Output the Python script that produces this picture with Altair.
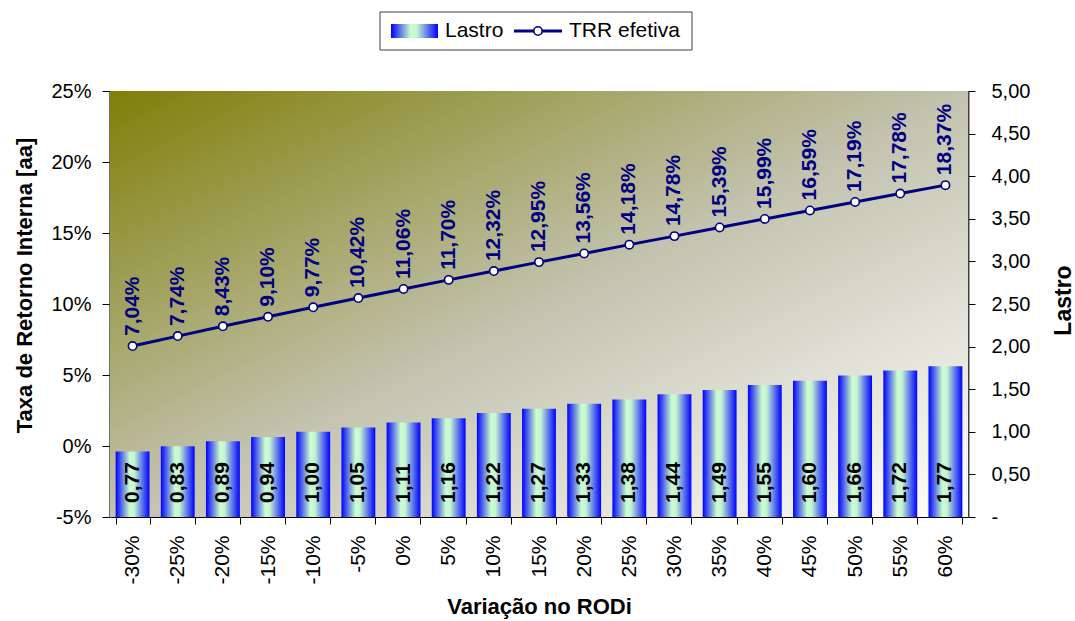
import altair as alt
import pandas as pd

categories = ["-30%", "-25%", "-20%", "-15%", "-10%", "-5%", "0%", "5%", "10%",
              "15%", "20%", "25%", "30%", "35%", "40%", "45%", "50%", "55%", "60%"]
lastro = [0.77, 0.83, 0.89, 0.94, 1.00, 1.05, 1.11, 1.16, 1.22, 1.27,
          1.33, 1.38, 1.44, 1.49, 1.55, 1.60, 1.66, 1.72, 1.77]
trr = [7.04, 7.74, 8.43, 9.10, 9.77, 10.42, 11.06, 11.70, 12.32, 12.95,
       13.56, 14.18, 14.78, 15.39, 15.99, 16.59, 17.19, 17.78, 18.37]
left_ticks = [-5, 0, 5, 10, 15, 20, 25]
right_ticks = [0, 0.5, 1, 1.5, 2, 2.5, 3, 3.5, 4, 4.5, 5]
legend_labels = ["Lastro", "TRR efetiva"]

W, H = 858, 426
NAVY = "#000080"
FONT = "Liberation Sans"

df = pd.DataFrame({"cat": categories, "lastro": lastro, "trr": trr})
df["lastro_lbl"] = [f"{v:.2f}".replace(".", ",") for v in lastro]
df["trr_lbl"] = [f"{v:.2f}".replace(".", ",") + "%" for v in trr]

bar_grad = alt.Gradient(
    gradient="linear", x1=0, y1=0, x2=1, y2=0,
    stops=[alt.GradientStop(offset=0, color="#0000ff"),
           alt.GradientStop(offset=0.42, color="#ccffcc"),
           alt.GradientStop(offset=0.55, color="#c4f4d4"),
           alt.GradientStop(offset=1, color="#0000ff")])
bg_grad = alt.Gradient(
    gradient="linear", x1=0, y1=0, x2=1, y2=1,
    stops=[alt.GradientStop(offset=0, color="#7f7f08"),
           alt.GradientStop(offset=0.5, color="#c2c2ae"),
           alt.GradientStop(offset=1, color="#ffffff")])

x_axis = alt.Axis(title="Variação no RODi", tickBand="extent", tickSize=7,
                  tickColor="black", domainColor="black", labelAngle=270,
                  labelFontSize=21, labelColor="black", labelPadding=11,
                  titleFontSize=22, titleFontWeight="bold", titleColor="black",
                  titleY=89, titleBaseline="middle", grid=False)
xenc = alt.X("cat:N", sort=categories,
             scale=alt.Scale(paddingInner=0.25, paddingOuter=0.125), axis=x_axis)

base = alt.Chart(df)

# background
bg = alt.Chart(pd.DataFrame({"a": [0]})).mark_rect(fill=bg_grad).encode(
    x=alt.value(0), x2=alt.value(W), y=alt.value(0), y2=alt.value(H))

# bars on right axis
r_scale = alt.Scale(domain=[0, 5], nice=False, zero=True)
r_axis = alt.Axis(orient="right", values=right_ticks, title="Lastro",
                  labelExpr="datum.value == 0 ? '-' : replace(format(datum.value, '.2f'), '.', ',')",
                  tickSize=7, tickColor="black", domainColor="#404040", domainWidth=2,
                  labelFontSize=20, labelColor="black", labelPadding=16,
                  titleFontSize=23, titleFontWeight="bold", titleColor="black",
                  titleAngle=270, titleX=95, titleY=209, titleBaseline="middle",
                  titleAlign="center", grid=False)
bars = base.mark_bar(color=bar_grad, stroke=None).encode(
    x=xenc, y=alt.Y("lastro:Q", scale=r_scale, axis=r_axis))
bar_lbl = base.mark_text(angle=270, align="left", baseline="middle", dx=14,
                         fontSize=21, fontWeight="bold", color="black").encode(
    x=xenc, y=alt.datum(0, scale=r_scale, axis=r_axis), text="lastro_lbl:N")
right = alt.layer(bars, bar_lbl)

# line on left axis
l_scale = alt.Scale(domain=[-5, 25], nice=False, zero=False)
l_axis = alt.Axis(orient="left", values=left_ticks, title="Taxa de Retorno Interna [aa]",
                  labelExpr="datum.value + '%'",
                  tickSize=8, tickColor="black", domainColor="#404040", domainWidth=2.5,
                  labelFontSize=20, labelColor="black", labelPadding=11,
                  titleFontSize=22, titleFontWeight="bold", titleColor="black",
                  titleAngle=270, titleX=-86, titleY=194, titleBaseline="middle",
                  titleAlign="center", grid=False)
line = base.mark_line(color=NAVY, strokeWidth=3).encode(
    x=xenc, y=alt.Y("trr:Q", scale=l_scale, axis=l_axis))
pts = base.mark_point(shape="circle", filled=True, fill="white", stroke=NAVY,
                      strokeWidth=1.6, size=70, opacity=1).encode(
    x=xenc, y=alt.Y("trr:Q", scale=l_scale, axis=l_axis))
line_lbl = base.mark_text(angle=270, align="left", baseline="middle", dx=10,
                          fontSize=21, fontWeight="bold", color=NAVY).encode(
    x=xenc, y=alt.Y("trr:Q", scale=l_scale, axis=l_axis), text="trr_lbl:N")
left = alt.layer(line, pts, line_lbl)

# legend (decoration)
one = pd.DataFrame({"a": [0]})
lg_box = alt.Chart(one).mark_rect(fill="white", stroke="#404040", strokeWidth=1).encode(
    x=alt.value(270), x2=alt.value(582), y=alt.value(-79), y2=alt.value(-41))
lg_sw = alt.Chart(one).mark_rect(fill=bar_grad).encode(
    x=alt.value(281), x2=alt.value(328), y=alt.value(-67), y2=alt.value(-53))
lg_t1 = alt.Chart(pd.DataFrame({"t": [legend_labels[0]]})).mark_text(
    align="left", baseline="middle", fontSize=21, color="black").encode(
    x=alt.value(335), y=alt.value(-60), text="t:N")
lg_ln = alt.Chart(one).mark_rule(color=NAVY, strokeWidth=3).encode(
    x=alt.value(404), x2=alt.value(452), y=alt.value(-60))
lg_pt = alt.Chart(one).mark_point(shape="circle", filled=True, fill="white", stroke=NAVY,
                                  strokeWidth=1.6, size=70, opacity=1).encode(
    x=alt.value(428), y=alt.value(-60))
lg_t2 = alt.Chart(pd.DataFrame({"t": [legend_labels[1]]})).mark_text(
    align="left", baseline="middle", fontSize=21, color="black").encode(
    x=alt.value(459), y=alt.value(-60), text="t:N")

chart = alt.layer(bg, right, left, lg_box, lg_sw, lg_t1, lg_ln, lg_pt, lg_t2).resolve_scale(
    y="independent").properties(
    width=W, height=H,
    autosize=alt.AutoSizeParams(type="none"),
    padding={"left": 110, "top": 91, "right": 107, "bottom": 104},
    background="white",
).configure(font=FONT).configure_view(stroke="#a0a0a0", strokeWidth=1)

chart.save("out.html", embed_options={"renderer": "svg", "actions": False})
